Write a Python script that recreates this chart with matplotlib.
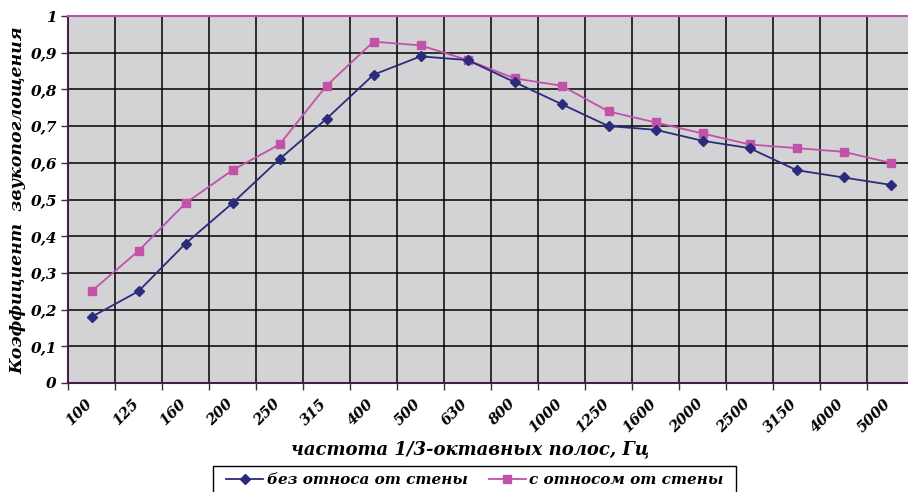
import matplotlib
matplotlib.use("Agg")
import matplotlib.pyplot as plt
from matplotlib.patches import Rectangle
import numpy as np

categories = ["100", "125", "160", "200", "250", "315", "400", "500", "630", "800",
              "1000", "1250", "1600", "2000", "2500", "3150", "4000", "5000"]
no_gap = [0.18, 0.25, 0.38, 0.49, 0.61, 0.72, 0.84, 0.89, 0.88, 0.82,
          0.76, 0.70, 0.69, 0.66, 0.64, 0.58, 0.56, 0.54]
with_gap = [0.25, 0.36, 0.49, 0.58, 0.65, 0.81, 0.93, 0.92, 0.88, 0.83,
            0.81, 0.74, 0.71, 0.68, 0.65, 0.64, 0.63, 0.60]
yticks = [0, 0.1, 0.2, 0.3, 0.4, 0.5, 0.6, 0.7, 0.8, 0.9, 1.0]
ytick_labels = ["0", "0,1", "0,2", "0,3", "0,4", "0,5", "0,6", "0,7", "0,8", "0,9", "1"]

W, H = 908, 492
fig = plt.figure(figsize=(W / 100, H / 100), dpi=100)
left, right, top, bottom = 68, 914, 16, 383
ax = fig.add_axes([left / W, 1 - bottom / H, (right - left) / W, (bottom - top) / H])

font = dict(family="DejaVu Serif", weight="bold", style="italic")
ax.set_facecolor("#d3d3d6")
x = np.arange(len(categories))
ax.set_xlim(-0.5, len(categories) - 0.5)
ax.set_ylim(0, 1)

ax.plot(x, no_gap, color="#2b2b7c", lw=1.3, marker="D", ms=5, label="без относа от стены", zorder=4)
ax.plot(x, with_gap, color="#c251a8", lw=1.3, marker="s", ms=5.5, label="с относом от стены", zorder=3)

ax.set_yticks(yticks)
ax.set_yticklabels(ytick_labels, fontsize=11, **font)
ax.set_xticks(np.arange(len(categories) + 1) - 0.5)
ax.set_xticklabels([])
ax.set_xticks(x - 0.15, minor=True)
ax.set_xticklabels(categories, minor=True, rotation=45, ha="right", va="top",
                   rotation_mode="anchor", fontsize=10.5, **font)
ax.tick_params(axis="x", which="minor", length=0, pad=10)
ax.tick_params(axis="x", which="major", length=5, width=1, color="#333333", direction="out")
ax.tick_params(axis="y", length=5, width=1, color="#333333", direction="out", pad=3)
ax.grid(True, which="major", color="black", lw=1.1, zorder=1)
ax.set_axisbelow(True)
for s in ["left", "bottom"]:
    ax.spines[s].set_color("#4a1c4a")
    ax.spines[s].set_linewidth(1.5)
ax.spines["top"].set_color("#c251a8")
ax.spines["top"].set_linewidth(1.5)
ax.spines["right"].set_visible(False)

fig.text(18 / W, 1 - 200 / H, "Коэффициент  звукопоглощения", rotation=90,
         ha="center", va="center", fontsize=12.5, **font)
fig.text(470 / W, 1 - 449 / H, "частота 1/3-октавных полос, Гц",
         ha="center", va="center", fontsize=13, **font)

# legend frame drawn manually
fig.patches.append(Rectangle((213 / W, 1 - 496 / H), (736 - 213) / W, 30 / H,
                             transform=fig.transFigure, fill=False, ec="black", lw=1.0))
leg = fig.legend(loc="center", bbox_to_anchor=(475 / W, 1 - 480 / H),
                 ncol=2, frameon=False, borderpad=0.2,
                 handlelength=2.4, handletextpad=0.25, columnspacing=1.4,
                 prop=dict(family="DejaVu Serif", weight="bold", style="italic", size=11))

fig.savefig("out.png", dpi=100)
